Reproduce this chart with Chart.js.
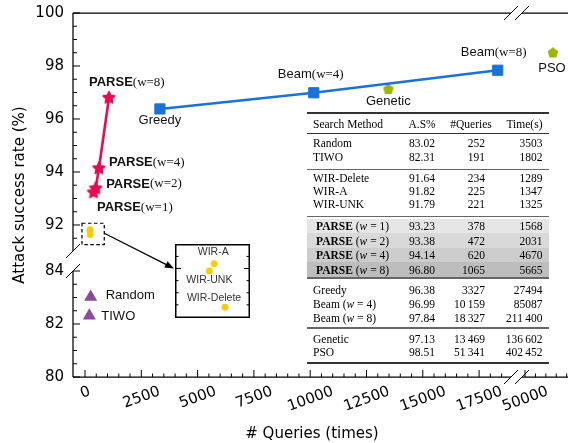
<!DOCTYPE html>
<html>
<head>
<meta charset="utf-8">
<script src="https://cdn.jsdelivr.net/npm/chart.js@4.4.1/dist/chart.umd.min.js"></script>
<style>
  html, body { margin:0; padding:0; background:#fff; }
  #wrap { position:relative; width:568px; height:443px; overflow:hidden; background:#fff; }
  #main { position:absolute; left:0; top:0; }
  #insetWrap { position:absolute; background:#fff; }
  #insetWrap canvas { display:block; }
  #tbl { position:absolute; left:0; top:0; width:568px; height:443px; font-family:"Liberation Serif","Times New Roman",serif; font-size:11.5px; color:#000; pointer-events:none; }
  #tbl .cell { position:absolute; white-space:nowrap; line-height:16px; height:16px; }
</style>
</head>
<body>
<div id="wrap">
  <canvas id="main" width="568" height="443"></canvas>
  <div id="insetWrap"><canvas id="inset"></canvas></div>
  <div id="tbl"></div>
</div>
<script>
// ---------------- data ----------------
const methodNames = ['Random','TIWO','WIR-Delete','WIR-A','WIR-UNK','PARSE','PARSE','PARSE','PARSE','Greedy','Beam','Beam','Genetic','PSO'];
const beamWidths  = [null,null,null,null,null,1,2,4,8,null,4,8,null,null];
const successRate = [83.02,82.31,91.64,91.82,91.79,93.23,93.38,94.14,96.80,96.38,96.99,97.84,97.13,98.51];
const queryCount  = [252,191,234,225,221,378,472,620,1065,3327,10159,18327,13469,51341];
const timeSeconds = [3503,1802,1289,1347,1325,1568,2031,4670,5665,27494,85087,211400,136602,402452];
const tableGroups = [[0,1],[2,3,4],[5,6,7,8],[9,10,11],[12,13]];
const tableHeader = ['Search Method','A.S%','#Queries','Time(s)'];
const baselineIdx = [0,1];
const wirIdx      = [2,3,4];
const parseIdx    = [5,6,7,8];
const searchIdx   = [9,10,11];
const geneticIdx  = [12];
const psoIdx      = [13];
const xTickLabels      = [0,2500,5000,7500,10000,12500,15000,17500];
const xTickLabelsBreak = [50000];
const yTickLabelsUpper = [92,94,96,98,100];
const yTickLabelsLower = [80,82,84];
const insetYTicks      = [91.65,91.70,91.75,91.80,91.85];

// ---------------- styles / layout ----------------
const C_PARSE = '#ea0a50', C_BLUE = '#1a72d8', C_GEN = '#9db500', C_PURPLE = '#8c4a9e', C_WIR = '#fbcb0a';
const INSET = {left:175, top:244, w:75, h:74};
const TICK_FONT = '15px "DejaVu Sans"';

function pts(ids){ return ids.map(i => ({x: queryCount[i], y: successRate[i]})); }

function makeStar(color){
  const c = document.createElement('canvas'); c.width = 18; c.height = 18;
  const g = c.getContext('2d');
  g.beginPath();
  for (let k = 0; k < 10; k++) {
    const r = k % 2 ? 3.0 : 6.2;
    const a = -Math.PI/2 + k*Math.PI/5;
    g.lineTo(9 + r*Math.cos(a), 9 + r*Math.sin(a));
  }
  g.closePath(); g.fillStyle = color; g.fill();
  g.lineWidth = 1.6; g.strokeStyle = color; g.lineJoin = 'round'; g.stroke();
  return c;
}
function makePentagon(color){
  const c = document.createElement('canvas'); c.width = 14; c.height = 14;
  const g = c.getContext('2d');
  g.beginPath();
  for (let k = 0; k < 5; k++) {
    const a = -Math.PI/2 + k*2*Math.PI/5;
    g.lineTo(7 + 5.6*Math.cos(a), 7.4 + 5.6*Math.sin(a));
  }
  g.closePath(); g.fillStyle = color; g.fill();
  return c;
}
const starImg = makeStar(C_PARSE);
const pentImg = makePentagon(C_GEN);

function pointPx(chart, i){
  const {xL, xR, yU, yD} = chart.scales;
  const xs = psoIdx.includes(i) ? xR : xL;
  const ys = baselineIdx.includes(i) ? yD : yU;
  return {x: xs.getPixelForValue(queryCount[i]), y: ys.getPixelForValue(successRate[i])};
}

const labelLayout = [
  {i:8, dx:-20, dy:-15, align:'left'},
  {i:7, dx:10,  dy:-5.5, align:'left'},
  {i:6, dx:10.5,dy:-4.5, align:'left'},
  {i:5, dx:3.5, dy:15,  align:'left'},
  {i:9, dx:0,   dy:11,  align:'center'},
  {i:10,dx:-3,  dy:-18, align:'center'},
  {i:11,dx:-4,  dy:-17.5,align:'center'},
  {i:12,dx:0,   dy:12.5,align:'center'},
  {i:13,dx:-1,  dy:16,  align:'center'},
  {i:0, dx:15,  dy:-2,  align:'left'},
  {i:1, dx:12,  dy:1,   align:'left'}
];

function labelParts(i){
  const n = methodNames[i], w = beamWidths[i];
  const parts = [[n, n === 'PARSE' ? 'bold 13px "Liberation Sans"' : '13px "Liberation Sans"']];
  if (w != null) parts.push(['(w=' + w + ')', '13px "Liberation Serif"']);
  return parts;
}

const seg = (ctx,x1,y1,x2,y2) => { ctx.beginPath(); ctx.moveTo(x1,y1); ctx.lineTo(x2,y2); ctx.stroke(); };
const near = (v, list) => list.some(t => Math.abs(t - v) < 1e-6);

const mainAxes = {
  id: 'mainAxes',
  beforeDatasetsDraw(chart){
    const ctx = chart.ctx; const {xL, xR, yU, yD} = chart.scales;
    const left = xL.left, right = xR.right, top = yU.top, bottom = yD.bottom;
    const xbL = xL.right - 5.5, xbR = xR.left + 5.5, ybU = yU.bottom - 9, ybD = yD.top + 11;
    ctx.save();
    ctx.strokeStyle = '#000'; ctx.lineWidth = 1.25;
    seg(ctx, left, top, left, ybU); seg(ctx, left, ybD, left, bottom);
    seg(ctx, left, bottom, xbL, bottom); seg(ctx, xbR, bottom, right, bottom);
    seg(ctx, left, top, xbL, top); seg(ctx, xbR, top, right, top);
    ctx.lineWidth = 1;
    [[left,ybU],[left,ybD],[xbL,top],[xbR,top],[xbL,bottom],[xbR,bottom]].forEach(([cx,cy]) => seg(ctx, cx-7, cy+7, cx+7, cy-7));
    // y ticks (inward)
    for (let v = 80; v <= 100.0001; v += 0.5) {
      const sc = v > 88 ? yU : yD;
      const p = sc.getPixelForValue(v);
      if (sc === yU && p > ybU) continue;
      if (sc === yD && p < ybD - 0.5) continue;
      const len = near(v, sc === yU ? yTickLabelsUpper : yTickLabelsLower) ? 7 : 4;
      seg(ctx, left, p, left + len, p);
    }
    // x ticks (inward)
    for (let v = 0; v <= 52500; v += 500) {
      if (v > 19500 && v < 49000) continue;
      const sc = v >= 40000 ? xR : xL;
      const p = sc.getPixelForValue(v);
      if (sc === xL && p > xbL) continue;
      if (sc === xR && (p < xbR || p > right + 0.5)) continue;
      const len = near(v, sc === xL ? xTickLabels : xTickLabelsBreak) ? 7 : 3.5;
      seg(ctx, p, bottom, p, bottom - len);
    }
    // tick labels
    ctx.fillStyle = '#000'; ctx.font = TICK_FONT;
    ctx.textAlign = 'right'; ctx.textBaseline = 'middle';
    yTickLabelsUpper.forEach(v => ctx.fillText(String(v), left - 9, yU.getPixelForValue(v)));
    yTickLabelsLower.forEach(v => ctx.fillText(String(v), left - 9, yD.getPixelForValue(v)));
    const rot = 20*Math.PI/180;
    const drawX = (v, sc) => {
      const p = sc.getPixelForValue(v), s = String(v);
      const w = ctx.measureText(s).width;
      const h = w*Math.sin(rot) + 11*Math.cos(rot);
      ctx.save(); ctx.translate(p, bottom + 8 + h/2); ctx.rotate(-rot);
      ctx.textAlign = 'center'; ctx.textBaseline = 'middle'; ctx.fillText(s, 0, 1); ctx.restore();
    };
    xTickLabels.forEach(v => drawX(v, xL));
    xTickLabelsBreak.forEach(v => drawX(v, xR));
    // axis titles
    ctx.textAlign = 'center'; ctx.textBaseline = 'middle';
    ctx.fillText('# Queries (times)', 312, 434);
    ctx.save(); ctx.translate(20, (top + bottom)/2); ctx.rotate(-Math.PI/2);
    ctx.fillText('Attack success rate (%)', 0, 0); ctx.restore();
    ctx.restore();
  },
  afterDatasetsDraw(chart){
    const ctx = chart.ctx;
    ctx.save();
    ctx.fillStyle = '#111'; ctx.textBaseline = 'middle'; ctx.textAlign = 'left';
    labelLayout.forEach(L => {
      const p = pointPx(chart, L.i);
      const parts = labelParts(L.i);
      let total = 0;
      parts.forEach(([t,f]) => { ctx.font = f; total += ctx.measureText(t).width; });
      let x = p.x + L.dx - (L.align === 'center' ? total/2 : 0);
      const y = p.y + L.dy;
      parts.forEach(([t,f]) => { ctx.font = f; ctx.fillText(t, x, y); x += ctx.measureText(t).width; });
    });
    // dashed box around WIR points
    const wp = wirIdx.map(i => pointPx(chart, i));
    const bx1 = Math.min(...wp.map(p => p.x)) - 8, bx2 = Math.max(...wp.map(p => p.x)) + 14;
    const by1 = Math.min(...wp.map(p => p.y)) - 6.5, by2 = Math.max(...wp.map(p => p.y)) + 10;
    ctx.strokeStyle = '#000'; ctx.lineWidth = 1.2; ctx.setLineDash([3.5, 2.5]);
    ctx.strokeRect(bx1, by1, bx2 - bx1, by2 - by1);
    ctx.setLineDash([]);
    // arrow to inset
    const ax1 = bx2, ay1 = by1 + 10, ax2 = INSET.left - 1, ay2 = INSET.top + 24.5;
    const ang = Math.atan2(ay2 - ay1, ax2 - ax1);
    seg(ctx, ax1, ay1, ax2 - 8*Math.cos(ang), ay2 - 8*Math.sin(ang));
    ctx.fillStyle = '#000'; ctx.beginPath();
    ctx.moveTo(ax2, ay2);
    ctx.lineTo(ax2 - 9*Math.cos(ang) + 3.5*Math.sin(ang), ay2 - 9*Math.sin(ang) - 3.5*Math.cos(ang));
    ctx.lineTo(ax2 - 9*Math.cos(ang) - 3.5*Math.sin(ang), ay2 - 9*Math.sin(ang) + 3.5*Math.cos(ang));
    ctx.closePath(); ctx.fill();
    ctx.restore();
  }
};

const hidden = {grid:{display:false, drawTicks:false}, border:{display:false}, ticks:{display:false}};

new Chart(document.getElementById('main'), {
  type: 'scatter',
  data: { datasets: [
    {data: pts(wirIdx), xAxisID:'xL', yAxisID:'yU', pointStyle:'circle', pointRadius:3.4, backgroundColor:C_WIR, borderWidth:0, clip:false},
    {data: pts(parseIdx), xAxisID:'xL', yAxisID:'yU', showLine:true, borderColor:C_PARSE, borderWidth:2.6, pointStyle:starImg, backgroundColor:C_PARSE, clip:false},
    {data: pts(searchIdx), xAxisID:'xL', yAxisID:'yU', showLine:true, borderColor:C_BLUE, borderWidth:2.6, pointStyle:'rect', pointRadius:7.2, backgroundColor:C_BLUE, pointBorderColor:C_BLUE, pointBorderWidth:1, clip:false},
    {data: pts(geneticIdx), xAxisID:'xL', yAxisID:'yU', pointStyle:pentImg, clip:false},
    {data: pts(psoIdx), xAxisID:'xR', yAxisID:'yU', pointStyle:pentImg, clip:false},
    {data: pts(baselineIdx), xAxisID:'xL', yAxisID:'yD', pointStyle:'triangle', pointRadius:7.5, backgroundColor:C_PURPLE, borderWidth:0, clip:false}
  ]},
  options: {
    responsive:false, animation:false, events:[],
    layout:{padding:{left:73, right:0, top:13, bottom:66}, autoPadding:false},
    plugins:{legend:{display:false}, tooltip:{enabled:false}},
    scales: {
      xL: Object.assign({type:'linear', axis:'x', position:'bottom', stack:'xs', stackWeight:443.5, weight:0, min:-533, max:19161}, hidden),
      xR: Object.assign({type:'linear', axis:'x', position:'bottom', stack:'xs', stackWeight:51.5, weight:1, min:49592, max:52064}, hidden),
      yU: Object.assign({type:'linear', axis:'y', position:'left', stack:'ys', stackWeight:247, weight:1, min:90.679, max:100}, hidden),
      yD: Object.assign({type:'linear', axis:'y', position:'left', stack:'ys', stackWeight:117, weight:0, min:80, max:84.415}, hidden)
    }
  },
  plugins: [mainAxes]
});

// ---------------- inset ----------------
const insetWrap = document.getElementById('insetWrap');
Object.assign(insetWrap.style, {left:INSET.left+'px', top:INSET.top+'px', width:INSET.w+'px', height:INSET.h+'px'});
const insetCanvas = document.getElementById('inset');
insetCanvas.width = INSET.w; insetCanvas.height = INSET.h;
const insetLabelLayout = [{i:3, dx:-1, dy:-11.7}, {i:4, dx:0, dy:9.3}, {i:2, dx:-11, dy:-9}];
const insetDeco = {
  id:'insetDeco',
  afterDatasetsDraw(chart){
    const ctx = chart.ctx, {x, y} = chart.scales, W = chart.width, H = chart.height;
    ctx.save();
    ctx.strokeStyle = '#000'; ctx.lineWidth = 1.5; ctx.strokeRect(0.75, 0.75, W - 1.5, H - 1.5);
    ctx.lineWidth = 1;
    insetYTicks.forEach(v => {
      const p = y.getPixelForValue(v);
      const len = Math.abs(v - 91.80) < 1e-6 ? 6 : 3.5;
      seg(ctx, 0, p, len, p); seg(ctx, W - len, p, W, p);
    });
    ctx.fillStyle = '#333'; ctx.font = '10.5px "Liberation Sans"'; ctx.textAlign = 'center'; ctx.textBaseline = 'middle';
    insetLabelLayout.forEach(L => {
      ctx.fillText(methodNames[L.i], x.getPixelForValue(queryCount[L.i]) + L.dx, y.getPixelForValue(successRate[L.i]) + L.dy);
    });
    ctx.restore();
  }
};
new Chart(insetCanvas, {
  type:'scatter',
  data:{datasets:[{data: pts(wirIdx), pointStyle:'circle', pointRadius:3.4, backgroundColor:C_WIR, borderWidth:0, clip:false}]},
  options:{
    responsive:false, animation:false, events:[],
    layout:{padding:0, autoPadding:false},
    plugins:{legend:{display:false}, tooltip:{enabled:false}},
    scales:{
      x: Object.assign({type:'linear', min:192.6, max:254.6}, hidden),
      y: Object.assign({type:'linear', min:91.5956, max:91.9014}, hidden)
    }
  },
  plugins:[insetDeco]
});

// ---------------- table ----------------
const TB = {left:307, right:549, colMethod:313, colAsr:409, colQ:485, colQHead:471, colT:542.5, header:124};
const groupRows  = [[143,157],[178,191,204],[226,240.5,255,269.5],[290,304,318],[338.5,352]];
const groupRules = [169.5,216.5,278,328];
const parseShades = ['#e6e6e6','#d9d9d9','#cccccc','#bdbdbd'];
const tbl = document.getElementById('tbl');
function cell(html, cy, pos){
  const d = document.createElement('div'); d.className = 'cell';
  d.style.top = (cy - 8) + 'px';
  if (pos.left != null) d.style.left = pos.left + 'px';
  if (pos.right != null) d.style.right = (568 - pos.right) + 'px';
  if (pos.center != null) { d.style.left = pos.center + 'px'; d.style.transform = 'translateX(-50%)'; }
  d.innerHTML = html; tbl.appendChild(d);
}
function band(y, h, color){
  const d = document.createElement('div');
  Object.assign(d.style, {position:'absolute', left:TB.left+'px', width:(TB.right-TB.left)+'px', top:(y - h/2)+'px', height:h+'px', background:color});
  tbl.appendChild(d);
}
function fmtNum(n, threshold){
  const s = String(n);
  return n < threshold ? s : s.replace(/\B(?=(\d{3})+(?!\d))/g, '\u2009');
}
function methodHtml(i){
  const n = methodNames[i], w = beamWidths[i];
  if (w == null) return n;
  return (n === 'PARSE' ? '<b>' + n + '</b>' : n) + ' (<i>w</i> = ' + w + ')';
}
groupRows[2].forEach((cy, k) => band(cy, 14.5, parseShades[k]));
band(113, 1.2, '#333');
band(133, 0.8, '#333');
groupRules.forEach(y => band(y, 1.2, '#666'));
band(363, 1.2, '#333');
cell(tableHeader[0], TB.header, {left:TB.colMethod});
cell(tableHeader[1], TB.header, {left:TB.colAsr - 0.5});
cell(tableHeader[2], TB.header, {center:TB.colQHead});
cell(tableHeader[3], TB.header, {right:TB.colT});
tableGroups.forEach((grp, g) => {
  grp.forEach((i, k) => {
    const cy = groupRows[g][k];
    cell(methodHtml(i), cy, {left: TB.colMethod + (methodNames[i] === 'PARSE' ? 3 : 0)});
    cell(successRate[i].toFixed(2), cy, {left:TB.colAsr});
    cell(fmtNum(queryCount[i], 10000), cy, {right:TB.colQ});
    cell(fmtNum(timeSeconds[i], 100000), cy, {right:TB.colT});
  });
});
</script>
</body>
</html>
